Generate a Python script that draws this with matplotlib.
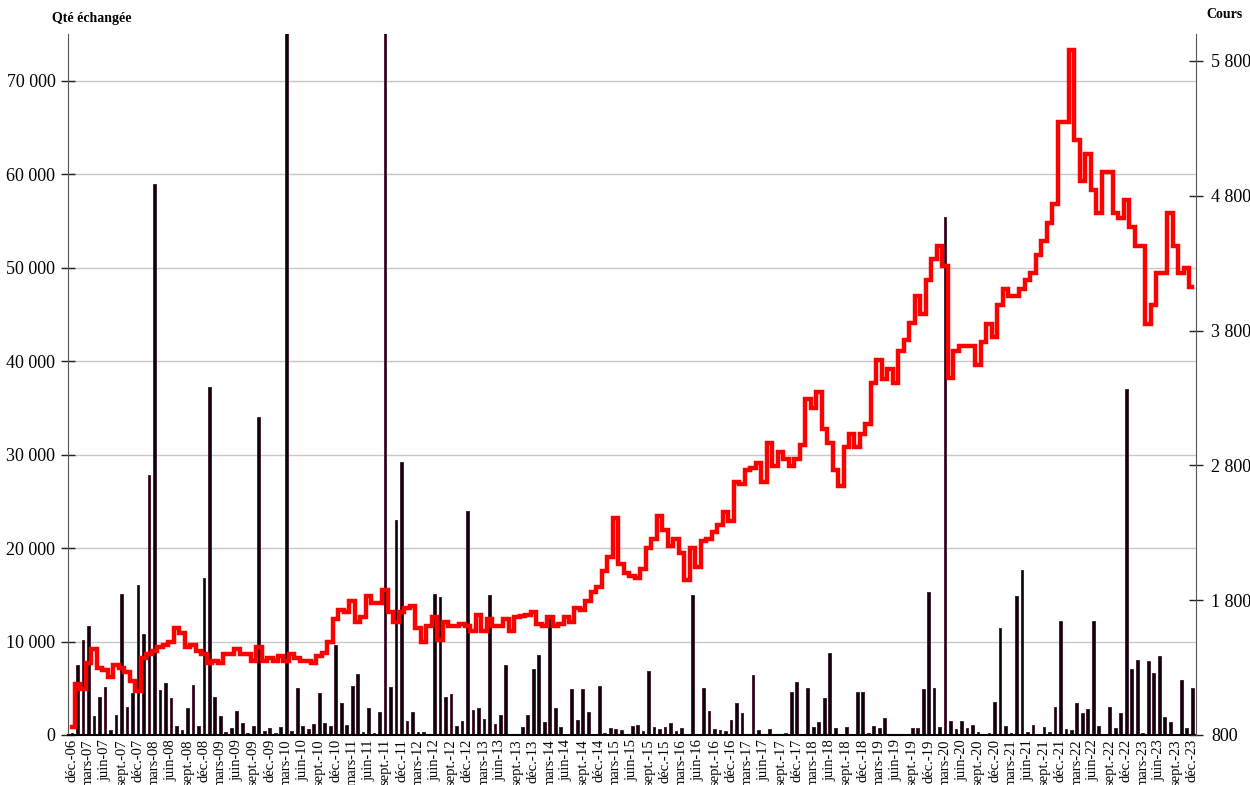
import matplotlib
matplotlib.use("Agg")
import matplotlib.pyplot as plt
import matplotlib.ticker as mticker
import numpy as np

# ---- data (monthly, déc. 2006 -> déc. 2023) ----
month_names = ['janv.', 'févr.', 'mars', 'avr.', 'mai', 'juin',
               'juil.', 'août', 'sept.', 'oct.', 'nov.', 'déc.']

volume_k = [
    0.2, 7.5, 10.2, 11.7, 2.0, 4.1, 5.1, 0.5, 2.1, 15.1,
    3.0, 4.5, 16.0, 10.8, 27.8, 59.0, 4.8, 5.6, 4.0, 1.0,
    0.5, 2.9, 5.4, 1.0, 16.8, 37.2, 4.1, 2.0, 0.3, 0.8,
    2.6, 1.3, 0.2, 1.0, 34.0, 0.4, 0.7, 0.2, 0.9, 80.0,
    0.4, 5.0, 1.0, 0.6, 1.2, 4.5, 1.3, 1.0, 9.6, 3.4,
    1.1, 5.2, 6.5, 0.3, 2.9, 0.2, 2.5, 80.0, 5.1, 23.0,
    29.2, 1.5, 2.5, 0.3, 0.3, 0.1, 15.1, 14.8, 4.1, 4.4,
    1.0, 1.5, 24.0, 2.7, 2.9, 1.7, 15.0, 1.2, 2.1, 7.5,
    0.1, 0.1, 0.9, 2.1, 7.1, 8.6, 1.4, 12.5, 2.9, 0.9,
    0.1, 4.9, 1.6, 4.9, 2.5, 0.1, 5.2, 0.2, 0.7, 0.6,
    0.5, 0.1, 1.0, 1.1, 0.4, 6.9, 0.9, 0.6, 0.9, 1.3,
    0.4, 0.8, 0.1, 15.0, 0.1, 5.0, 2.6, 0.6, 0.5, 0.4,
    1.6, 3.4, 2.3, 0.1, 6.4, 0.5, 0.1, 0.6, 0.0, 0.1,
    0.2, 4.6, 5.7, 0.1, 5.0, 0.9, 1.4, 4.0, 8.8, 0.7,
    0.0, 0.9, 0.0, 4.6, 4.6, 0.2, 1.0, 0.7, 1.8, 0.0,
    0.1, 0.0, 0.0, 0.7, 0.8, 4.9, 15.3, 5.0, 0.9, 55.4,
    1.5, 0.6, 1.5, 0.8, 1.1, 0.3, 0.1, 0.2, 3.5, 11.4,
    1.0, 0.2, 14.9, 17.7, 0.3, 1.1, 0.0, 0.9, 0.3, 3.0,
    12.2, 0.6, 0.5, 3.4, 2.4, 2.8, 12.2, 1.0, 0.0, 3.0,
    0.8, 2.3, 37.0, 7.1, 8.0, 0.2, 7.9, 6.6, 8.5, 1.9,
    1.4, 0.1, 5.9, 0.8, 5.0,
]

price = [
    860, 1180, 1140, 1334, 1436, 1300, 1283, 1232, 1317, 1300,
    1266, 1198, 1130, 1368, 1402, 1420, 1453, 1470, 1487, 1590,
    1555, 1453, 1470, 1420, 1402, 1334, 1351, 1334, 1402, 1402,
    1436, 1402, 1402, 1351, 1453, 1351, 1368, 1351, 1385, 1351,
    1402, 1368, 1351, 1351, 1334, 1385, 1409, 1487, 1658, 1726,
    1709, 1794, 1640, 1675, 1828, 1777, 1777, 1879, 1709, 1640,
    1709, 1743, 1760, 1590, 1487, 1607, 1675, 1504, 1640, 1607,
    1607, 1624, 1607, 1573, 1692, 1573, 1658, 1607, 1607, 1658,
    1573, 1675, 1681, 1692, 1709, 1624, 1607, 1675, 1607, 1624,
    1675, 1640, 1743, 1726, 1794, 1862, 1896, 2015, 2117, 2406,
    2066, 1998, 1981, 1964, 2032, 2185, 2253, 2423, 2321, 2202,
    2253, 2151, 1947, 2185, 2049, 2236, 2253, 2304, 2355, 2457,
    2389, 2678, 2661, 2764, 2781, 2815, 2678, 2968, 2798, 2900,
    2849, 2798, 2849, 2951, 3291, 3223, 3342, 3070, 2968, 2764,
    2645, 2934, 3036, 2934, 3036, 3104, 3410, 3580, 3444, 3512,
    3410, 3648, 3733, 3853, 4057, 3921, 4176, 4329, 4431, 4278,
    3450, 3648, 3682, 3682, 3682, 3546, 3716, 3850, 3750, 3989,
    4108, 4057, 4057, 4108, 4176, 4227, 4363, 4465, 4601, 4737,
    5350, 5350, 5880, 5214, 4908, 5112, 4840, 4669, 4976, 4976,
    4669, 4635, 4772, 4567, 4431, 4431, 3850, 3989, 4227, 4227,
    4669, 4431, 4227, 4261, 4125,
]

left_ticks = [0, 10000, 20000, 30000, 40000, 50000, 60000, 70000]
right_ticks = [800, 1800, 2800, 3800, 4800, 5800]

n = len(volume_k)
x = np.arange(n)
# month labels: index 0 = déc. 2006
labels_all = [f"{month_names[(11 + i) % 12]}-{(2006 + (11 + i) // 12) % 100:02d}" for i in range(n)]
tick_pos = x[::3]
tick_lab = labels_all[::3]

volume = np.array(volume_k) * 1000

# ---- figure ----
plt.rcParams['font.family'] = ['Liberation Serif', 'DejaVu Serif']
fig = plt.figure(figsize=(12.5, 7.85), dpi=100)
ax = fig.add_axes([0.0544, 0.0637, 0.9024, 0.893])

ax.bar(x, volume, width=0.5, color='#0a0508', edgecolor='#4a2038',
       linewidth=0.7, zorder=2)
ax.set_xlim(-0.75, n - 0.3)
ax.set_ylim(0, 75000)
ax.set_yticks(left_ticks)
ax.yaxis.set_major_formatter(mticker.FuncFormatter(
    lambda v, p: f"{int(v):,}".replace(",", " ")))
ax.grid(axis='y', color='#c8c8c8', linewidth=1.0, zorder=0)
ax.set_axisbelow(True)
ax.set_xticks(tick_pos)
ax.set_xticklabels(tick_lab, rotation=90, fontsize=10.5)
ax.tick_params(axis='x', length=0, pad=3)
ax.tick_params(axis='y', direction='inout', length=10, width=1.0,
               labelsize=13, pad=4, colors='#222222')
for lab in ax.get_yticklabels():
    lab.set_color('black')
ax.spines['top'].set_visible(False)
ax.spines['right'].set_visible(False)
ax.spines['left'].set_color('#555555')
ax.spines['bottom'].set_color('black')
ax.spines['bottom'].set_linewidth(1.5)

ax2 = ax.twinx()
ax2.plot(x, price, color='#ff0000', linewidth=3.2, drawstyle='steps-mid',
         solid_joinstyle='miter', zorder=3)
ax2.set_ylim(800, 6000)
ax2.set_yticks(right_ticks)
ax2.yaxis.set_major_formatter(mticker.FuncFormatter(
    lambda v, p: f"{int(v):,}".replace(",", " ")))
ax2.tick_params(axis='y', direction='inout', length=10, width=1.0,
                labelsize=13, pad=6, colors='#222222')
for lab in ax2.get_yticklabels():
    lab.set_color('black')
for s in ['top', 'left', 'bottom']:
    ax2.spines[s].set_visible(False)
ax2.spines['right'].set_color('#555555')

fig.text(0.042, 0.977, "Qté échangée", fontsize=10, fontweight='bold',
         ha='left', va='center')
fig.text(0.994, 0.981, "Cours", fontsize=10, fontweight='bold',
         ha='right', va='center')

fig.savefig("out.png", dpi=100)
